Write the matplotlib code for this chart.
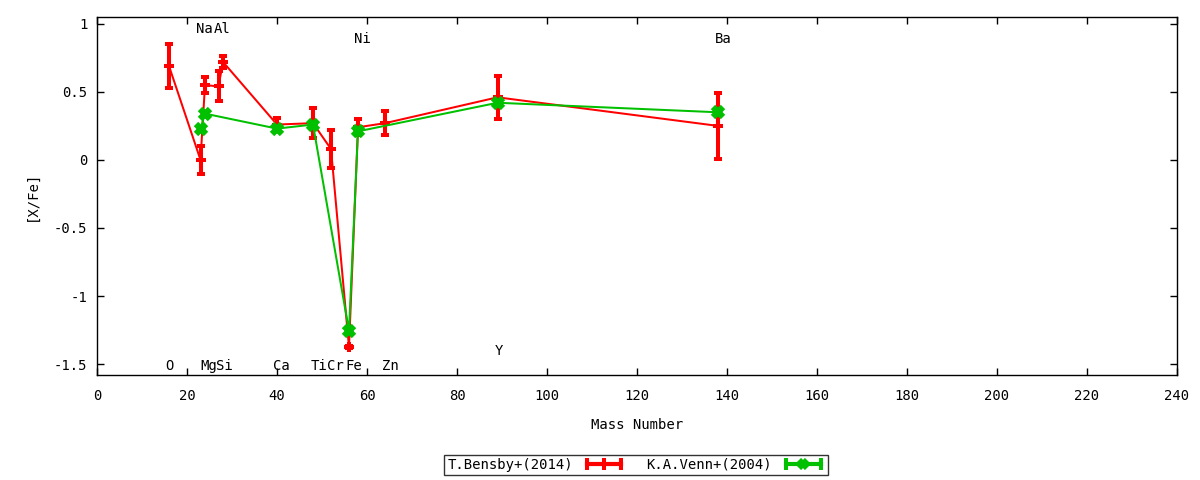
import matplotlib
matplotlib.use("Agg")
import matplotlib.pyplot as plt
from matplotlib.lines import Line2D
from matplotlib.legend_handler import HandlerLine2D, HandlerTuple
from matplotlib.ticker import FuncFormatter, MultipleLocator

plt.rcParams['font.family'] = ['DejaVu Sans Mono', 'DejaVu Sans']
FS = 10

# Bensby et al. (2014)
bensby_mass = [16, 23, 24, 27, 28, 40, 48, 52, 56, 58, 64, 89, 138]
bensby_xfe = [0.69, 0.00, 0.55, 0.54, 0.72, 0.26, 0.27, 0.08, -1.375, 0.24, 0.27, 0.46, 0.25]
bensby_err = [0.16, 0.10, 0.06, 0.11, 0.045, 0.05, 0.11, 0.14, 0.01, 0.06, 0.09, 0.16, 0.24]

# Venn et al. (2004)
venn_mass = [23, 24, 40, 48, 56, 58, 89, 138]
venn_xfe = [0.23, 0.34, 0.23, 0.26, -1.255, 0.21, 0.42, 0.35]
venn_err = [0, 0, 0, 0, 0, 0, 0, 0]

# element labels
elem_names = ["O", "Mg", "Si", "Ca", "Ti", "Cr", "Fe", "Zn", "Y", "Na", "Al", "Ni", "Ba"]
elem_x = [16.2, 24.9, 28.4, 41.0, 49.3, 53.0, 57.1, 65.2, 89.4, 23.9, 27.9, 59.0, 139.1]
elem_y = [-1.54, -1.54, -1.54, -1.54, -1.54, -1.54, -1.54, -1.54, -1.434, 0.93, 0.93, 0.858, 0.858]

RED = "#ff0000"
GREEN = "#00c000"

fig = plt.figure(figsize=(12, 4.8), dpi=100)
ax = fig.add_axes([97 / 1200, 105 / 480, 1080 / 1200, 358 / 480])

ax.errorbar(bensby_mass, bensby_xfe, yerr=bensby_err, color=RED, lw=1.45,
            elinewidth=2.9, capsize=3.0, capthick=2.9, marker='+', ms=6.5, mew=2.9, zorder=2)
ax.errorbar(venn_mass, venn_xfe, yerr=venn_err, color=GREEN, lw=1.45,
            elinewidth=2.9, capsize=0, marker='x', ms=6.5, mew=4.5, zorder=3)

for n, x, y in zip(elem_names, elem_x, elem_y):
    ax.text(x, y, n, ha='center', va='baseline', fontsize=FS, color='black')

ax.set_xlim(0, 240)
ax.set_ylim(-1.58, 1.05)
ax.xaxis.set_major_locator(MultipleLocator(20))
ax.yaxis.set_major_locator(MultipleLocator(0.5))
ax.yaxis.set_major_formatter(FuncFormatter(lambda v, p: "%g" % v))
ax.tick_params(direction='in', length=5, width=1, top=True, right=True, labelsize=FS)
ax.tick_params(axis='x', pad=10)
ax.tick_params(axis='y', pad=7)
for s in ax.spines.values():
    s.set_linewidth(1)

ax.set_xlabel("Mass Number", fontsize=FS)
ax.set_ylabel("[X/Fe]", fontsize=FS)
ax.xaxis.set_label_coords(0.5, -0.12)
ax.yaxis.set_label_coords(-0.0537, 0.5)

# legend proxies in gnuplot style: caps at both ends, point in the middle
r_end = Line2D([], [], color=RED, lw=3, marker='|', ms=8, mew=2.9)
r_mid = Line2D([], [], color=RED, lw=0, marker='|', ms=8, mew=2.9)
g_end = Line2D([], [], color=GREEN, lw=3, marker='|', ms=8, mew=2.9)
g_mid = Line2D([], [], color=GREEN, lw=0, marker='x', ms=6, mew=4.2)
hmap = {r_end: HandlerLine2D(numpoints=2), g_end: HandlerLine2D(numpoints=2),
        r_mid: HandlerLine2D(numpoints=1), g_mid: HandlerLine2D(numpoints=1),
        tuple: HandlerTuple(ndivide=1, pad=0)}
leg = fig.legend([(r_end, r_mid), (g_end, g_mid)], ["T.Bensby+(2014)", "K.A.Venn+(2004)"],
                 handler_map=hmap, loc='center', bbox_to_anchor=(636 / 1200, 1 - 465 / 480),
                 ncol=2, markerfirst=False, fontsize=FS, frameon=True, fancybox=False,
                 handlelength=3.1, handletextpad=0.7, columnspacing=1.5, borderpad=0.25)
leg.get_frame().set_edgecolor('black')
leg.get_frame().set_linewidth(1)

fig.savefig("out.png", dpi=100)
